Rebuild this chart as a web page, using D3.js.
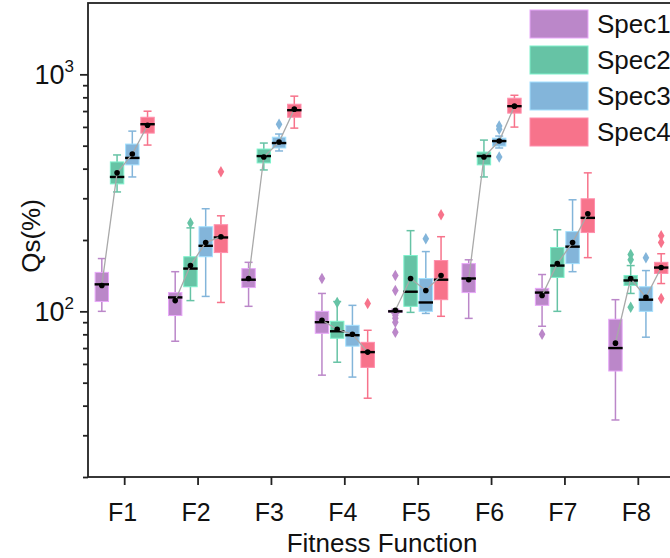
<!DOCTYPE html>
<html>
<head>
<meta charset="utf-8">
<script src="https://cdn.jsdelivr.net/npm/d3@7"></script>
<style>
  body { margin: 0; background: #fff; }
  svg { display: block; font-family: Arial, "Liberation Sans", sans-serif; }
</style>
</head>
<body>
<svg id="chart" width="670" height="558"></svg>
<script>
// categories
const functions = ["F1", "F2", "F3", "F4", "F5", "F6", "F7", "F8"];
const specs = ["Spec1", "Spec2", "Spec3", "Spec4"];
const colors = ["#bb87c9", "#66c3a5", "#83b5da", "#f7738b"];

// box statistics, one row per fitness function, one column per spec
const whiskerLow = [
  [100, 319, 369, 503],
  [74.8, 111, 115.6, 109],
  [105, 395, 475, 593],
  [53.8, 61, 52.8, 43],
  [98, 99, 98, 95.3],
  [93.4, 369, 489, 599],
  [86.5, 100, 147, 168.5],
  [34.8, 119, 77.8, 131]
];
const q1 = [
  [110, 345, 415, 565],
  [96, 127, 170, 177],
  [126, 423, 489, 659],
  [80.8, 77, 71.3, 58],
  [99, 105, 100, 112],
  [120, 415, 498, 686],
  [106, 139, 159, 215],
  [56, 128.6, 100, 144.5]
];
const median = [
  [130, 369, 444, 616],
  [114.5, 151.5, 189, 205],
  [136, 452, 513, 706],
  [90, 82.4, 79.3, 67.3],
  [100, 121, 109, 136],
  [137.6, 452, 523, 734],
  [120, 156, 187.5, 248],
  [70, 135, 112, 153]
];
const q3 = [
  [146, 427, 508, 659],
  [120, 170, 227.5, 232],
  [151.5, 484, 543, 748],
  [100, 90.8, 87.3, 74],
  [101, 172, 137.6, 163.8],
  [159, 470, 538, 793],
  [125, 186, 217, 298.5],
  [92.6, 141.7, 127, 161]
];
const whiskerHigh = [
  [167, 457, 576, 699],
  [147, 225, 271, 253],
  [161, 513, 560, 809],
  [119, 110, 106, 83.2],
  [102, 219, 178.7, 206.5],
  [165, 528, 549, 816],
  [143, 221, 295.6, 384],
  [112, 156, 148.6, 175]
];
const means = [
  [128.6, 384, 461, 610],
  [111, 156, 195, 206.5],
  [137.6, 448, 518, 713],
  [91.7, 84, 80, 67.3],
  [101, 137.6, 122.5, 141.7],
  [136, 448, 523, 734],
  [116.7, 159, 195, 258],
  [73.4, 137.6, 114.5, 153]
];
const outliers = [
  { f: "F2", s: "Spec2", v: [236] },
  { f: "F2", s: "Spec4", v: [388] },
  { f: "F3", s: "Spec3", v: [616] },
  { f: "F4", s: "Spec1", v: [137.6] },
  { f: "F4", s: "Spec2", v: [109] },
  { f: "F4", s: "Spec4", v: [108] },
  { f: "F5", s: "Spec1", v: [141.7, 122.5, 96.2, 93.5, 90, 81.6] },
  { f: "F5", s: "Spec3", v: [202.6] },
  { f: "F5", s: "Spec4", v: [255.6] },
  { f: "F6", s: "Spec3", v: [605, 587, 448] },
  { f: "F7", s: "Spec1", v: [80] },
  { f: "F8", s: "Spec2", v: [173.6, 165, 104] },
  { f: "F8", s: "Spec3", v: [168.5] },
  { f: "F8", s: "Spec4", v: [208.6, 195, 113.4] }
];
const majorTicks = [100, 1000];
const minorTicks = [20, 30, 40, 50, 60, 70, 80, 90, 200, 300, 400, 500, 600, 700, 800, 900];

// layout
const plotLeft = 88, plotRight = 675, plotTop = 3, plotBottom = 477;
const svg = d3.select("#chart");

const x = d3.scaleBand().domain(functions).range([plotLeft, plotRight]).padding(0);
const inner = d3.scaleBand().domain(specs).range([-31.4, 31.4]).padding(0.12);
const y = d3.scaleLog().domain([20, 2000]).range([plotBottom, plotTop]);
const color = d3.scaleOrdinal(specs, colors);

// flatten rows
let rows = [];
functions.forEach(function (f, i) {
  specs.forEach(function (s, j) {
    rows.push({
      f: f, s: s,
      lo: whiskerLow[i][j], q1: q1[i][j], med: median[i][j],
      q3: q3[i][j], hi: whiskerHigh[i][j], mean: means[i][j],
      cx: x(f) + x.bandwidth() / 2 + inner(s) + inner.bandwidth() / 2
    });
  });
});

const bw = inner.bandwidth();
const plot = svg.append("g");

// whiskers
const box = plot.selectAll("g.box").data(rows).enter().append("g").attr("class", "box");
box.append("line")
  .attr("x1", d => d.cx).attr("x2", d => d.cx)
  .attr("y1", d => y(d.hi)).attr("y2", d => y(d.lo))
  .attr("stroke", d => color(d.s)).attr("stroke-width", 1.5);
box.selectAll("line.cap")
  .data(d => [{ d: d, v: d.lo }, { d: d, v: d.hi }])
  .enter().append("line").attr("class", "cap")
  .attr("x1", c => c.d.cx - 4).attr("x2", c => c.d.cx + 4)
  .attr("y1", c => y(c.v)).attr("y2", c => y(c.v))
  .attr("stroke", c => color(c.d.s)).attr("stroke-width", 1.5);

// boxes
box.append("rect")
  .attr("x", d => d.cx - bw / 2)
  .attr("width", bw)
  .attr("y", d => y(d.q3))
  .attr("height", d => Math.max(1.5, y(d.q1) - y(d.q3)))
  .attr("fill", d => color(d.s))
  .attr("stroke", d => d3.color(color(d.s)).brighter(0.6))
  .attr("stroke-width", 1);

// outliers
const diamond = d3.symbol().type(d3.symbolDiamond).size(38);
outliers.forEach(function (o) {
  const cx = x(o.f) + x.bandwidth() / 2 + inner(o.s) + inner.bandwidth() / 2;
  plot.selectAll(null).data(o.v).enter().append("path")
    .attr("d", diamond)
    .attr("transform", v => "translate(" + cx + "," + y(v) + ")")
    .attr("fill", color(o.s));
});

// medians
box.append("line")
  .attr("x1", d => d.cx - bw / 2 - 0.5).attr("x2", d => d.cx + bw / 2 + 0.5)
  .attr("y1", d => y(d.med)).attr("y2", d => y(d.med))
  .attr("stroke", "#000").attr("stroke-width", 2.4);

// mean connecting lines
const meanLine = d3.line().x(d => d.cx).y(d => y(d.mean));
functions.forEach(function (f) {
  plot.append("path")
    .datum(rows.filter(r => r.f === f))
    .attr("d", meanLine)
    .attr("fill", "none")
    .attr("stroke", "#a9a9a9")
    .attr("stroke-width", 1.3);
});

// mean dots
plot.selectAll("circle.mean").data(rows).enter().append("circle")
  .attr("class", "mean")
  .attr("cx", d => d.cx).attr("cy", d => y(d.mean))
  .attr("r", 2.8).attr("fill", "#000");

// frame
svg.append("rect")
  .attr("x", plotLeft).attr("y", plotTop)
  .attr("width", plotRight - plotLeft).attr("height", plotBottom - plotTop)
  .attr("fill", "none").attr("stroke", "#222").attr("stroke-width", 1.8);

// x axis
const xAxis = svg.append("g")
  .attr("transform", "translate(0," + plotBottom + ")")
  .call(d3.axisBottom(x).tickSize(8).tickPadding(18));
xAxis.select(".domain").remove();
xAxis.selectAll("line").attr("stroke", "#222").attr("stroke-width", 1.8);
xAxis.selectAll("text").attr("font-size", 25).attr("fill", "#111")
  .attr("dx", -2)
  .attr("font-family", "Arial, 'Liberation Sans', sans-serif");

// y axis, major + minor ticks
const yMajor = svg.append("g")
  .attr("transform", "translate(" + plotLeft + ",0)")
  .call(d3.axisLeft(y).tickValues(majorTicks).tickSize(8).tickFormat(""));
const yMinor = svg.append("g")
  .attr("transform", "translate(" + plotLeft + ",0)")
  .call(d3.axisLeft(y).tickValues(minorTicks).tickSize(5).tickFormat(""));
[yMajor, yMinor].forEach(function (g) {
  g.select(".domain").remove();
  g.selectAll("line").attr("stroke", "#222").attr("stroke-width", 1.8);
});

const yLabels = svg.append("g").selectAll("text").data(majorTicks).enter().append("text")
  .attr("x", 74)
  .attr("y", d => y(d) + 10)
  .attr("text-anchor", "end")
  .attr("fill", "#111");
yLabels.append("tspan").attr("font-size", 27).text("10");
yLabels.append("tspan").attr("font-size", 17).attr("dy", -12)
  .text(d => Math.round(Math.log10(d)));

// axis titles
svg.append("text")
  .attr("transform", "translate(40,236) rotate(-90)")
  .attr("text-anchor", "middle")
  .attr("font-size", 26).attr("fill", "#111")
  .text("Qs(%)");
svg.append("text")
  .attr("x", 382).attr("y", 552)
  .attr("text-anchor", "middle")
  .attr("font-size", 26).attr("fill", "#111")
  .text("Fitness Function");

// legend
const legend = svg.append("g").selectAll("g").data(specs).enter().append("g")
  .attr("transform", (d, i) => "translate(530," + (10 + i * 36) + ")");
legend.append("rect")
  .attr("width", 58).attr("height", 28)
  .attr("fill", d => color(d))
  .attr("stroke", d => d3.color(color(d)).brighter(0.6));
legend.append("text")
  .attr("x", 67).attr("y", 14).attr("dy", "0.36em")
  .attr("font-size", 26).attr("fill", "#111")
  .text(d => d);
</script>
</body>
</html>
